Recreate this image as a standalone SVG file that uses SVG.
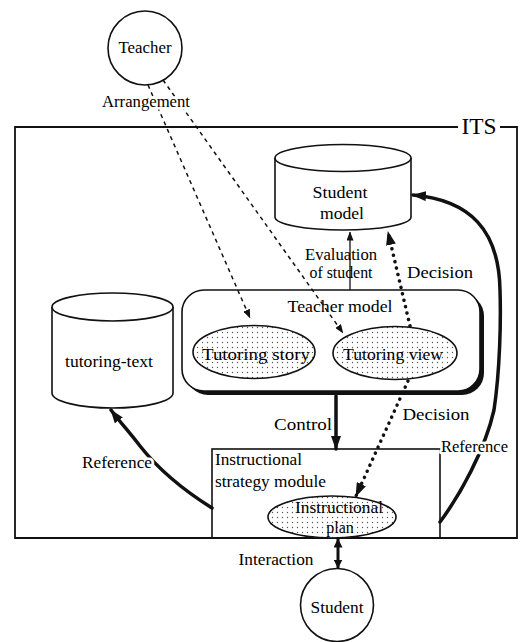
<svg xmlns="http://www.w3.org/2000/svg" width="522" height="642" viewBox="0 0 522 642">
<style>
text{font-family:"Liberation Serif","Times New Roman",serif;font-size:16px;fill:#000;text-anchor:middle}
.l{text-anchor:start}
.halo{stroke:#fff;stroke-width:5px;paint-order:stroke;stroke-linejoin:round}
.shape{fill:#fff;stroke:#111;stroke-width:1.6}
.dotfill{fill:url(#dots);stroke:#111;stroke-width:1.6}
.thick{fill:none;stroke:#111;stroke-width:3.5;stroke-linecap:round}
.dotted{fill:none;stroke:#111;stroke-width:3.5;stroke-dasharray:0.1 6.5;stroke-linecap:round}
.dashed{fill:none;stroke:#111;stroke-width:1.5;stroke-dasharray:4 4}
.thin{fill:none;stroke:#111;stroke-width:1.3}
</style>
<defs>
<pattern id="dots" width="5" height="5" patternUnits="userSpaceOnUse">
<rect width="5" height="5" fill="#fff"/>
<circle cx="2.5" cy="2.5" r="0.7" fill="#555"/>
</pattern>
<marker id="ah" markerUnits="userSpaceOnUse" viewBox="0 0 14 10" refX="13" refY="5" markerWidth="14" markerHeight="10" orient="auto-start-reverse">
<path d="M0,0 L14,5 L0,10 z" fill="#111"/>
</marker>
<marker id="am" markerUnits="userSpaceOnUse" viewBox="0 0 9 9" refX="8.5" refY="4.5" markerWidth="9" markerHeight="9" orient="auto-start-reverse">
<path d="M0,0 L9,4.5 L0,9 z" fill="#111"/>
</marker>
<marker id="as" markerUnits="userSpaceOnUse" viewBox="0 0 9 7" refX="8.5" refY="3.5" markerWidth="9" markerHeight="7" orient="auto-start-reverse">
<path d="M0,0 L9,3.5 L0,7 z" fill="#111"/>
</marker>
</defs>

<g id="its">
<path d="M458,127 L15,127 L15,538 L517,538 L517,127 L500,127" fill="none" stroke="#111" stroke-width="1.8"/>
<text x="479" y="134" style="font-size:24px" textLength="35" lengthAdjust="spacingAndGlyphs">ITS</text>
</g>

<g id="teacher">
<circle cx="145" cy="48" r="37" class="shape"/>
<text x="145" y="53" textLength="53" lengthAdjust="spacingAndGlyphs">Teacher</text>
</g>

<g id="student-model">
<path d="M275,158 L275,217 A68,13 0 0 0 411,217 L411,158" class="shape"/>
<ellipse cx="343" cy="158" rx="68" ry="13.5" class="shape"/>
<text x="340" y="198" textLength="55" lengthAdjust="spacingAndGlyphs">Student</text>
<text x="342" y="219" textLength="44" lengthAdjust="spacingAndGlyphs">model</text>
</g>

<g id="tutoring-text">
<path d="M52,307 L52,393 A60.5,15 0 0 0 173,393 L173,307" class="shape"/>
<ellipse cx="112.5" cy="307" rx="60.5" ry="14" class="shape"/>
<text x="109" y="367" textLength="88" lengthAdjust="spacingAndGlyphs">tutoring-text</text>
</g>

<g id="teacher-model">
<rect x="186" y="294" width="298" height="101" rx="22" fill="#111"/>
<rect x="182" y="290" width="298" height="101" rx="22" class="shape"/>
<text x="340" y="312" textLength="105" lengthAdjust="spacingAndGlyphs">Teacher model</text>
</g>

<g id="tutoring-story">
<ellipse cx="254" cy="352" rx="61" ry="26.5" class="dotfill"/>
<text x="256" y="360" textLength="108" lengthAdjust="spacingAndGlyphs">Tutoring story</text>
</g>

<g id="tutoring-view">
<ellipse cx="395" cy="353" rx="62" ry="26.5" class="dotfill"/>
<text x="393" y="360" textLength="100" lengthAdjust="spacingAndGlyphs">Tutoring view</text>
</g>

<g id="instructional-strategy-module">
<rect x="212" y="449" width="228" height="89" fill="none" stroke="#111" stroke-width="1.6"/>
<text x="215" y="465" class="l" textLength="87" lengthAdjust="spacingAndGlyphs">Instructional</text>
<text x="215" y="487" class="l" textLength="111" lengthAdjust="spacingAndGlyphs">strategy module</text>
</g>

<g id="instructional-plan">
<ellipse cx="332" cy="517" rx="64" ry="21" class="dotfill"/>
<text x="339" y="513" textLength="88" lengthAdjust="spacingAndGlyphs">Instructional</text>
<text x="340" y="533">plan</text>
</g>

<g id="student">
<circle cx="337" cy="605" r="36.5" class="shape"/>
<text x="337" y="613" textLength="53" lengthAdjust="spacingAndGlyphs">Student</text>
</g>

<g id="connectors">
<path d="M148,85 L250,318" class="dashed" marker-end="url(#as)"/>
<path d="M163,80 L343,333" class="dashed" marker-end="url(#as)"/>
<text x="146" y="107" class="halo" textLength="88" lengthAdjust="spacingAndGlyphs">Arrangement</text>

<path d="M350,290 L350,232" class="thin" marker-end="url(#as)"/>
<text x="341" y="260" textLength="72" lengthAdjust="spacingAndGlyphs">Evaluation</text>
<text x="341" y="278" textLength="63" lengthAdjust="spacingAndGlyphs">of student</text>

<path d="M410,326 L388,232" class="dotted" marker-end="url(#ah)"/>
<text x="440" y="278" textLength="66" lengthAdjust="spacingAndGlyphs">Decision</text>

<path d="M408,381 L356,496" class="dotted" marker-end="url(#ah)"/>
<text x="436" y="420" class="halo" textLength="67" lengthAdjust="spacingAndGlyphs">Decision</text>

<path d="M336,396 L336,449" class="thick" marker-end="url(#ah)"/>
<text x="303" y="430" textLength="58" lengthAdjust="spacingAndGlyphs">Control</text>

<path d="M440,522 C460,495 485,450 494,410 C500,370 501,320 500,290 C499,230 470,200 413,195" class="thick" marker-end="url(#ah)"/>
<text x="441" y="452" class="l halo" textLength="67" lengthAdjust="spacingAndGlyphs">Reference</text>

<path d="M212,508 C180,488 155,465 140,446 C130,433 120,422 111,410" class="thick" marker-end="url(#ah)"/>
<text x="82" y="468" class="l halo" textLength="70" lengthAdjust="spacingAndGlyphs">Reference</text>

<path d="M338,539 L338,568" fill="none" stroke="#111" stroke-width="3" marker-start="url(#am)" marker-end="url(#am)"/>
<text x="276" y="565" textLength="75" lengthAdjust="spacingAndGlyphs">Interaction</text>
</g>
</svg>
